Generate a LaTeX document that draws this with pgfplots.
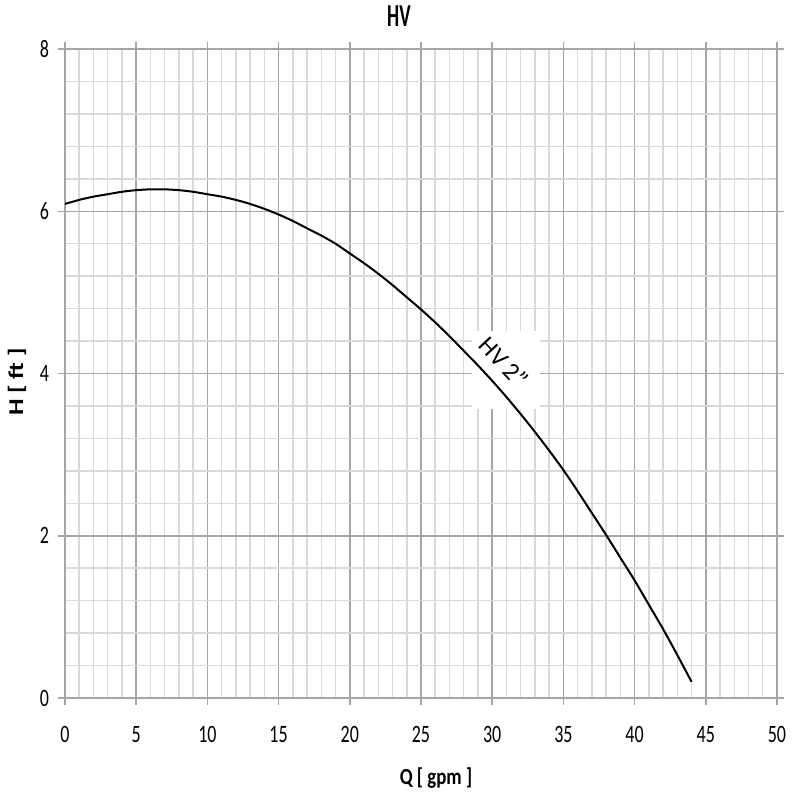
\documentclass[border=0pt]{standalone}
\usepackage{pgfplots}
\pgfplotsset{compat=1.18}
\usepackage{fontspec}
\setmainfont{Carlito}
\newfontfamily\tickfont[FakeStretch=0.72]{Carlito}
\newfontfamily\titlefont[FakeStretch=0.6]{Carlito}
\newfontfamily\labfont[FakeStretch=0.82]{Carlito}
\newfontfamily\ylabfont[FakeStretch=1.25]{Carlito}
\definecolor{minorg}{HTML}{D9D9D9}
\definecolor{majorg}{HTML}{A6A6A6}
\begin{document}
\begin{tikzpicture}
\path[use as bounding box] (-32.5pt,-51pt) rectangle (367.5pt,349pt);
\begin{axis}[
  scale only axis,
  width=356pt, height=324.5pt,
  xmin=0, xmax=50, ymin=0, ymax=8,
  xtick={0,5,...,50}, ytick={0,2,...,8},
  minor xtick={1,2,3,4,6,7,8,9,11,12,13,14,16,17,18,19,21,22,23,24,26,27,28,29,31,32,33,34,36,37,38,39,41,42,43,44,46,47,48,49},
  minor ytick={0.4,0.8,1.2,1.6,2.4,2.8,3.2,3.6,4.4,4.8,5.2,5.6,6.4,6.8,7.2,7.6},
  grid=both,
  minor grid style={draw=minorg, line width=0.75pt},
  major grid style={draw=majorg, line width=0.75pt},
  axis line style={draw=majorg, line width=0.75pt},
  tick align=outside,
  major tick length=3.5pt, minor tick length=0pt,
  tick style={draw=majorg, line width=0.75pt},
  /pgf/number format/assume math mode=true,
  ticklabel style={font=\tickfont\fontsize{12.5}{14}\selectfont, text=black},
  xticklabel style={yshift=-7pt},
  yticklabel style={xshift=-1pt},
  title={HV},
  title style={font=\titlefont\bfseries\fontsize{16}{18}\selectfont, at={(0.469,1)}, anchor=center, yshift=10.5pt},
  xlabel={Q [ gpm ]},
  xlabel style={font=\labfont\bfseries\fontsize{11.5}{13}\selectfont, at={(0.521,0)}, anchor=center, yshift=-40pt},
  ylabel={H [ ft ]},
  ylabel style={font=\ylabfont\bfseries\fontsize{10.5}{12}\selectfont, at={(0,0.487)}, anchor=center, yshift=24pt},
]
\node[fill=white, inner sep=0pt, minimum width=34pt, minimum height=39pt] at (axis cs:31.0,4.04) {};
\addplot[black, line width=1pt, smooth] coordinates {
(0,6.09) (1,6.14) (2,6.18) (3,6.21) (4,6.24) (5,6.26) (6,6.27) (7,6.27) (8,6.26) (9,6.24)
(10,6.21) (11,6.18) (12,6.14) (13,6.09) (14,6.03) (15,5.96) (16,5.88) (17,5.79) (18,5.70) (19,5.60)
(20,5.48) (21,5.36) (22,5.23) (23,5.09) (24,4.94) (25,4.79) (26,4.63) (27,4.46) (28,4.28) (29,4.10)
(30,3.91) (31,3.71) (32,3.50) (33,3.28) (34,3.05) (35,2.81) (36,2.55) (37,2.28) (38,2.01) (39,1.73)
(40,1.45) (41,1.15) (42,0.85) (43,0.53) (44,0.20)
};
\node[rotate=-47, inner sep=0pt, font=\fontsize{12.5}{14}\selectfont] at (axis cs:30.83,4.14) {HV 2”};
\end{axis}
\end{tikzpicture}
\end{document}
